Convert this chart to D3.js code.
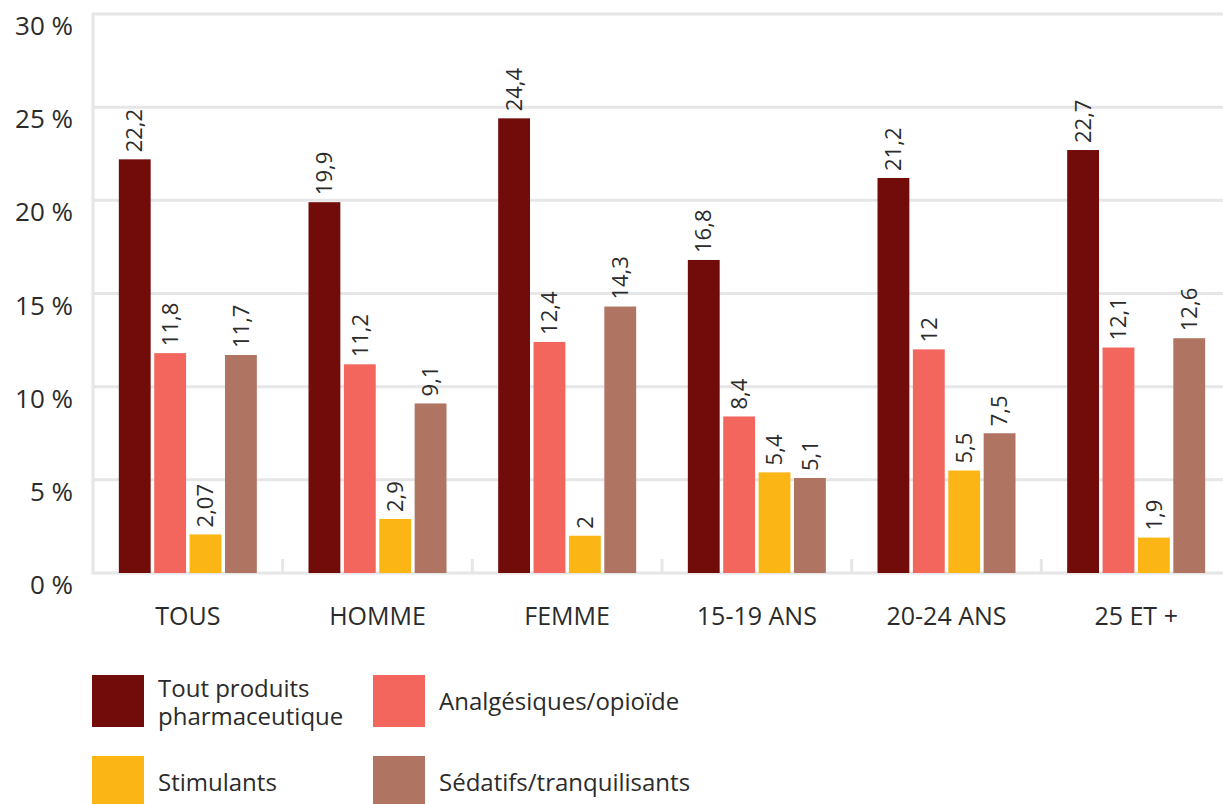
<!DOCTYPE html>
<html>
<head>
<meta charset="utf-8">
<script src="https://cdn.jsdelivr.net/npm/d3@7"></script>
<style>
  html, body { margin: 0; padding: 0; background: #ffffff; }
  svg { display: block; font-family: "Open Sans", "Noto Sans", sans-serif; }
</style>
</head>
<body>
<svg id="chart" width="1223" height="804"></svg>
<script>
// ---- data ----
const categories = ["TOUS", "HOMME", "FEMME", "15-19 ANS", "20-24 ANS", "25 ET +"];
const seriesNames = ["Tout produits pharmaceutique", "Analgésiques/opioïde", "Stimulants", "Sédatifs/tranquilisants"];
const toutProduits = [22.2, 19.9, 24.4, 16.8, 21.2, 22.7];
const analgesiques = [11.8, 11.2, 12.4, 8.4, 12, 12.1];
const stimulants   = [2.07, 2.9, 2, 5.4, 5.5, 1.9];
const sedatifs     = [11.7, 9.1, 14.3, 5.1, 7.5, 12.6];
const yTicks = [0, 5, 10, 15, 20, 25, 30];
const colors = ["#720c0a", "#f2665e", "#fbb615", "#b07562"];

const seriesValues = [toutProduits, analgesiques, stimulants, sedatifs];

// ---- layout ----
const svg = d3.select("#chart");
const plotLeft = 93, plotRight = 1231, plotTop = 14, plotBottom = 573;
const gridColor = "#e6e6e8";
const textColor = "#2b2b2b";

const x0 = d3.scaleBand().domain(categories).range([plotLeft, plotRight]).paddingInner(0).paddingOuter(0);
const groupW = 138;
const x1 = d3.scaleBand().domain(d3.range(seriesNames.length))
  .range([(x0.bandwidth() - groupW) / 2, (x0.bandwidth() + groupW) / 2])
  .paddingInner(0.1).paddingOuter(0);
const y = d3.scaleLinear().domain([0, 30]).range([plotBottom, plotTop]);

const fmt = v => String(+v.toFixed(2)).replace(".", ",");

// gridlines
svg.append("g").selectAll("line").data(yTicks).join("line")
  .attr("x1", plotLeft).attr("x2", 1223)
  .attr("y1", d => y(d)).attr("y2", d => y(d))
  .attr("stroke", gridColor).attr("stroke-width", 3);

// left frame line
svg.append("line")
  .attr("x1", plotLeft).attr("x2", plotLeft)
  .attr("y1", plotTop - 1.5).attr("y2", plotBottom + 1.5)
  .attr("stroke", gridColor).attr("stroke-width", 3);

// category boundary ticks
svg.append("g").selectAll("line").data(categories.slice(1)).join("line")
  .attr("x1", d => x0(d)).attr("x2", d => x0(d))
  .attr("y1", plotBottom - 14).attr("y2", plotBottom)
  .attr("stroke", gridColor).attr("stroke-width", 3);

// y-axis labels
svg.append("g").selectAll("text").data(yTicks).join("text")
  .attr("x", 73).attr("y", d => y(d) + 21)
  .attr("text-anchor", "end")
  .attr("font-size", 26).attr("fill", textColor)
  .text(d => d + " %");

// bars
const groups = svg.append("g").selectAll("g").data(categories).join("g")
  .attr("transform", d => `translate(${x0(d)},0)`);

groups.each(function(cat, ci) {
  const g = d3.select(this);
  const rows = seriesValues.map((arr, si) => ({ si, v: arr[ci] }));
  g.selectAll("rect").data(rows).join("rect")
    .attr("x", d => x1(d.si)).attr("width", x1.bandwidth())
    .attr("y", d => y(d.v)).attr("height", d => y(0) - y(d.v))
    .attr("fill", d => colors[d.si]);
  g.selectAll("text.val").data(rows).join("text")
    .attr("class", "val")
    .attr("transform", d => `translate(${x1(d.si) + x1.bandwidth() / 2},${y(d.v) - 7}) rotate(-90)`)
    .attr("dy", "0.35em")
    .attr("font-size", 22).attr("fill", textColor)
    .text(d => fmt(d.v));
});

// category labels
svg.append("g").selectAll("text").data(categories).join("text")
  .attr("x", d => x0(d) + x0.bandwidth() / 2).attr("y", 625)
  .attr("text-anchor", "middle")
  .attr("font-size", 25).attr("fill", textColor)
  .text(d => d);

// legend
const legendPos = [
  { x: 92, y: 675 }, { x: 373, y: 675 }, { x: 92, y: 756 }, { x: 373, y: 756 }
];
const legendLines = [["Tout produits", "pharmaceutique"], ["Analgésiques/opioïde"], ["Stimulants"], ["Sédatifs/tranquilisants"]];
const lg = svg.append("g").selectAll("g").data(seriesNames).join("g")
  .attr("transform", (d, i) => `translate(${legendPos[i].x},${legendPos[i].y})`);
lg.append("rect").attr("width", 52).attr("height", 52).attr("fill", (d, i) => colors[i]);
lg.each(function(d, i) {
  const lines = legendLines[i];
  const t = d3.select(this).append("text")
    .attr("font-size", 24).attr("fill", textColor);
  const baseY = lines.length === 2 ? 22 : 35;
  lines.forEach((ln, k) => {
    t.append("tspan").attr("x", 66).attr("y", baseY + k * 27.5).text(ln);
  });
});
</script>
</body>
</html>
